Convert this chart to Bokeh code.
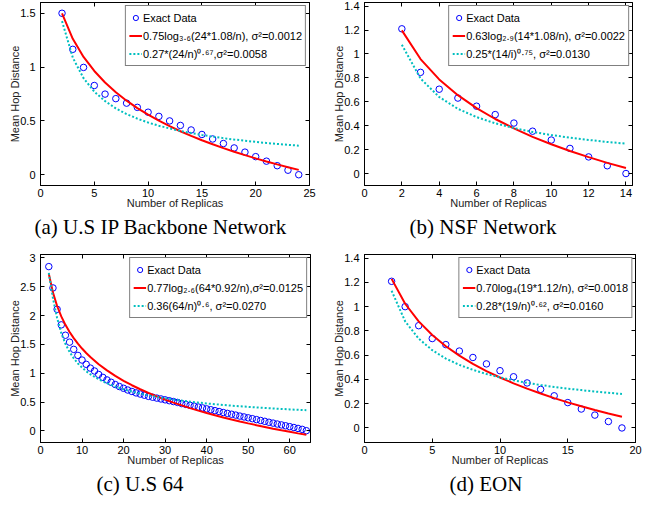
from bokeh.plotting import figure
from bokeh.models import (Range1d, FixedTicker, LinearAxis, Legend, LegendItem, Title,
                          CustomLabelingPolicy)
from bokeh.layouts import column, row
from bokeh.embed import file_html
from bokeh.resources import INLINE

# ---------------- data ----------------
# (a) U.S IP Backbone Network
a_n = list(range(2, 25))
a_exact = [1.50, 1.165, 0.997, 0.829, 0.749, 0.707, 0.665, 0.626, 0.581, 0.542, 0.500,
           0.458, 0.416, 0.374, 0.332, 0.290, 0.249, 0.210, 0.168, 0.126, 0.084, 0.042, 0.0]
a_fit_n = list(range(2, 25))
a_log = [1.500, 1.263, 1.094, 0.964, 0.857, 0.767, 0.688, 0.619, 0.558, 0.502, 0.451,
         0.404, 0.361, 0.320, 0.283, 0.247, 0.214, 0.182, 0.152, 0.123, 0.096, 0.070, 0.045]
a_pow = [1.427, 1.088, 0.897, 0.772, 0.684, 0.616, 0.564, 0.521, 0.485, 0.455, 0.430,
         0.407, 0.387, 0.370, 0.354, 0.340, 0.327, 0.316, 0.305, 0.295, 0.286, 0.278, 0.270]
a_labels = ["Exact Data", "0.75log\u2083.\u2086(24*1.08/n), \u03c3\u00b2=0.0012",
            "0.27*(24/n)\u2070\u00b7\u2076\u2077,\u03c3\u00b2=0.0058"]
a_xticks = [0, 5, 10, 15, 20, 25]
a_yticks = [0, 0.5, 1, 1.5]
a_ylabels = ["0", "0.5", "1", "1.5"]

# (b) NSF Network
b_n = list(range(2, 15))
b_exact = [1.21, 0.846, 0.705, 0.631, 0.563, 0.493, 0.422, 0.354, 0.280, 0.210, 0.139, 0.065, 0.0]
b_fit_n = list(range(2, 15))
b_log = [1.197, 0.957, 0.787, 0.655, 0.547, 0.456, 0.377, 0.307, 0.245, 0.188, 0.137, 0.089, 0.046]
b_pow = [1.076, 0.794, 0.640, 0.541, 0.472, 0.420, 0.380, 0.348, 0.322, 0.300, 0.281, 0.264, 0.250]
b_labels = ["Exact Data", "0.63log\u2082.\u2089(14*1.08/n), \u03c3\u00b2=0.0022",
            "0.25*(14/i)\u2070\u00b7\u2077\u2075, \u03c3\u00b2=0.0130"]
b_xticks = [0, 2, 4, 6, 8, 10, 12, 14]
b_yticks = [0, 0.2, 0.4, 0.6, 0.8, 1, 1.2, 1.4]
b_ylabels = ["0", "0.2", "0.4", "0.6", "0.8", "1", "1.2", "1.4"]

# (c) U.S 64
c_n = list(range(2, 65))
c_exact = [2.85, 2.48, 2.11, 1.84, 1.66, 1.54, 1.415, 1.31, 1.23, 1.156, 1.09,
           1.04, 0.98, 0.93, 0.885, 0.845, 0.805, 0.77, 0.74, 0.71, 0.685, 0.66,
           0.64, 0.62, 0.60, 0.585, 0.57, 0.555, 0.54, 0.525, 0.51, 0.495, 0.475,
           0.46, 0.445, 0.43, 0.415, 0.40, 0.383, 0.368, 0.352, 0.337, 0.32, 0.305,
           0.29, 0.275, 0.258, 0.243, 0.228, 0.213, 0.197, 0.182, 0.167, 0.151,
           0.136, 0.12, 0.105, 0.09, 0.075, 0.06, 0.044, 0.028, 0.005]
c_fit_n = [2, 3, 4, 5, 6, 7, 8, 9, 10, 11, 12, 14, 16, 18, 20, 22, 24, 26, 28, 30,
           32, 34, 36, 38, 40, 42, 44, 46, 48, 50, 52, 54, 56, 58, 60, 62, 64]
c_log = [2.726, 2.399, 2.167, 1.987, 1.840, 1.716, 1.609, 1.514, 1.429, 1.352, 1.282,
         1.158, 1.050, 0.955, 0.870, 0.793, 0.723, 0.659, 0.599, 0.543, 0.491, 0.443,
         0.396, 0.353, 0.312, 0.272, 0.235, 0.199, 0.165, 0.132, 0.100, 0.070, 0.040,
         0.012, -0.015, -0.042, -0.067]
c_pow = [2.74, 2.30, 1.96, 1.70, 1.51, 1.37, 1.26, 1.17, 1.10, 1.036, 0.983,
         0.896, 0.827, 0.771, 0.723, 0.683, 0.649, 0.618, 0.591, 0.567, 0.546, 0.526,
         0.508, 0.492, 0.477, 0.464, 0.451, 0.439, 0.428, 0.418, 0.408, 0.399, 0.390,
         0.382, 0.374, 0.367, 0.360]
c_labels = ["Exact Data", "0.77log\u2082.\u2086(64*0.92/n),\u03c3\u00b2=0.0125",
            "0.36(64/n)\u2070\u00b7\u2076, \u03c3\u00b2=0.0270"]
c_xticks = [0, 10, 20, 30, 40, 50, 60]
c_yticks = [0, 0.5, 1, 1.5, 2, 2.5, 3]
c_ylabels = ["0", "0.5", "1", "1.5", "2", "2.5", "3"]

# (d) EON
d_n = list(range(2, 20))
d_exact = [1.209, 1.0, 0.843, 0.737, 0.687, 0.634, 0.581, 0.528, 0.472, 0.422,
           0.371, 0.318, 0.265, 0.209, 0.156, 0.106, 0.053, 0.0]
d_fit_n = list(range(2, 20))
d_log = [1.229, 1.024, 0.879, 0.766, 0.674, 0.596, 0.529, 0.469, 0.416, 0.368,
         0.324, 0.284, 0.246, 0.211, 0.179, 0.148, 0.119, 0.092]
d_pow = [1.131, 0.879, 0.736, 0.641, 0.572, 0.520, 0.479, 0.445, 0.417, 0.393,
         0.372, 0.354, 0.338, 0.324, 0.312, 0.300, 0.290, 0.280]
d_labels = ["Exact Data", "0.70log\u2084(19*1.12/n), \u03c3\u00b2=0.0018",
            "0.28*(19/n)\u2070\u00b7\u2076\u00b2, \u03c3\u00b2=0.0160"]
d_xticks = [0, 5, 10, 15, 20]
d_yticks = [0, 0.2, 0.4, 0.6, 0.8, 1, 1.2, 1.4]
d_ylabels = ["0", "0.2", "0.4", "0.6", "0.8", "1", "1.2", "1.4"]

SANS = "Liberation Sans"
SERIF = "Liberation Serif"
RED = "#ff0000"
BLUE = "#0000ff"
CYAN = "#00bfbf"

NO_LABELS = "for (const i of indices) { indices.unset(i) }\nreturn indices"


def tick_only_axis(ticks):
    return LinearAxis(ticker=FixedTicker(ticks=ticks), major_label_text_font_size="0px",
                      major_label_policy=CustomLabelingPolicy(code=NO_LABELS),
                      major_tick_in=4, major_tick_out=0, minor_tick_in=0, minor_tick_out=0,
                      major_label_standoff=0, axis_line_color="black")


def panel(n, exact, fit_n, log_v, pow_v, labels, xr, yr, xticks, yticks, ylabels,
          caption, cap_offset, width, height, bl, br, bt, bb):
    p = figure(width=width, height=height, output_backend="svg", toolbar_location=None,
               x_range=Range1d(*xr), y_range=Range1d(*yr),
               min_border_left=bl, min_border_right=br, min_border_top=bt, min_border_bottom=bb,
               background_fill_color="white", border_fill_color="white")
    p.outline_line_color = "black"
    p.outline_line_width = 1
    p.grid.visible = False

    r0 = p.scatter(n, exact, marker="circle", size=6.5, fill_color=None,
                   line_color=BLUE, line_width=1)
    r1 = p.line(fit_n, log_v, line_color=RED, line_width=2)
    r2 = p.line(fit_n, pow_v, line_color=CYAN, line_width=2, line_dash="2 2")

    for ax in (p.xaxis[0], p.yaxis[0]):
        ax.major_tick_in = 4
        ax.major_tick_out = 0
        ax.minor_tick_in = 0
        ax.minor_tick_out = 0
        ax.axis_line_color = "black"
        ax.major_tick_line_color = "black"
        ax.major_label_text_font = SANS
        ax.major_label_text_font_size = "11px"
        ax.major_label_text_color = "black"
        ax.axis_label_text_font = SANS
        ax.axis_label_text_font_size = "11px"
        ax.axis_label_text_font_style = "normal"
        ax.axis_label_text_color = "#222222"
    p.xaxis.ticker = FixedTicker(ticks=xticks)
    p.yaxis.ticker = FixedTicker(ticks=yticks)
    p.yaxis.major_label_overrides = dict(zip(yticks, ylabels))
    p.xaxis.axis_label = "Number of Replicas"
    p.yaxis.axis_label = "Mean Hop Distance"
    p.xaxis.major_label_standoff = 3
    p.xaxis.axis_label_standoff = -3
    p.yaxis.major_label_standoff = 5
    p.yaxis.axis_label_standoff = -4

    p.add_layout(tick_only_axis(xticks), "above")
    p.add_layout(tick_only_axis(yticks), "right")

    legend = Legend(items=[LegendItem(label=labels[0], renderers=[r0]),
                           LegendItem(label=labels[1], renderers=[r1]),
                           LegendItem(label=labels[2], renderers=[r2])],
                    location="top_right", margin=3, padding=3, spacing=1,
                    label_height=17, glyph_height=17, glyph_width=13, label_standoff=1,
                    border_line_color="black", border_line_width=1,
                    background_fill_color="white", background_fill_alpha=1,
                    label_text_font=SANS, label_text_font_size="11px", label_text_color="black")
    p.add_layout(legend)

    cap = Title(text=caption, align="left", offset=cap_offset, text_font=SERIF,
                text_font_size="21px", text_font_style="normal", text_color="black", standoff=2)
    p.add_layout(cap, "below")
    return p


pa = panel(a_n, a_exact, a_fit_n, a_log, a_pow, a_labels, (0, 25), (-0.1, 1.6),
           a_xticks, a_yticks, a_ylabels, "(a)  U.S IP Backbone Network", -6,
           324, 250, 40, 15, 2, 65)
pb = panel(b_n, b_exact, b_fit_n, b_log, b_pow, b_labels, (0, 14.35), (-0.1, 1.43),
           b_xticks, b_yticks, b_ylabels, "(b)  NSF Network", 45,
           330, 250, 40, 22, 2, 65)
pc = panel(c_n, c_exact, c_fit_n, c_log, c_pow, c_labels, (0, 65), (-0.2, 3.06),
           c_xticks, c_yticks, c_ylabels, "(c)  U.S 64", 56,
           324, 246, 40, 14, 4, 53)
pd = panel(d_n, d_exact, d_fit_n, d_log, d_pow, d_labels, (0, 20), (-0.12, 1.43),
           d_xticks, d_yticks, d_ylabels, "(d)  EON", 85,
           330, 246, 40, 19, 4, 53)

layout = column(row(pa, pb), row(pc, pd))
open("out.html", "w").write(file_html(layout, INLINE))
